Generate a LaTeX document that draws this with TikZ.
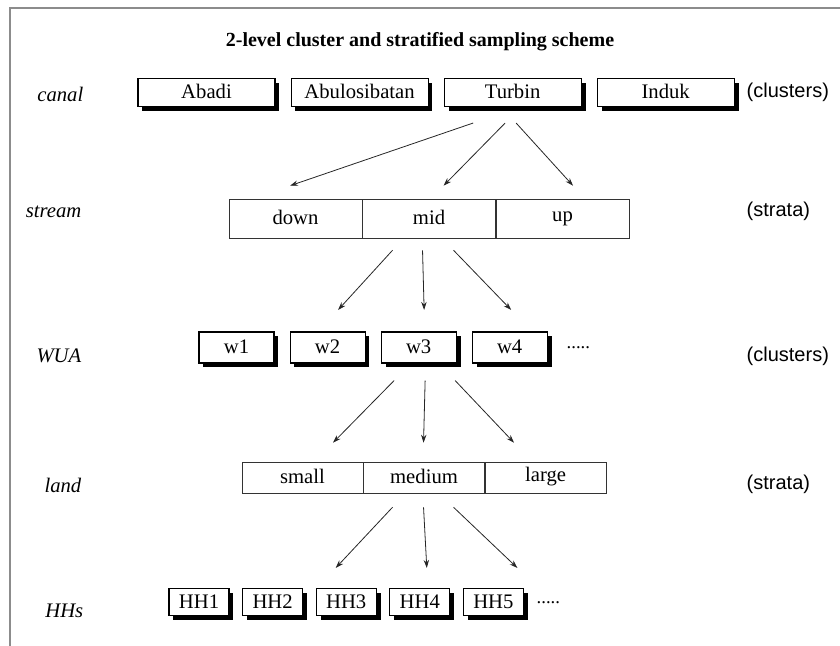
\documentclass[tikz,border=0pt]{standalone}
\usepackage{fontspec}
\setmainfont{Liberation Serif}
\setsansfont{Liberation Sans}
\usepackage{tikz}
\usetikzlibrary{positioning, shadows, calc, arrows.meta}

\begin{document}
\begin{tikzpicture}[x=0.75pt, y=-0.75pt, font=\fontsize{15.5}{17}\selectfont,
	cbox/.style={draw, fill=white, thick, inner sep=0pt, text height=10pt, text depth=1pt,
		minimum height=21pt, minimum width=102.75pt,
		drop shadow={shadow xshift=3.3pt, shadow yshift=-3.3pt, fill=black, opacity=1}},
	wbox/.style={cbox, minimum width=56.25pt, minimum height=23.25pt},
	hbox/.style={cbox, minimum width=45pt, minimum height=20.25pt},
	scell/.style={draw=black!80, inner sep=0pt, text height=10pt, text depth=1pt,
		minimum width=99.75pt, minimum height=29.25pt},
	lcell/.style={scell, minimum width=90.75pt, minimum height=23.25pt},
	rowname/.style={anchor=east, font=\fontsize{15.5}{17}\selectfont\itshape},
	kind/.style={anchor=west, font=\fontsize{15}{17}\sffamily},
	more/.style={anchor=base west, font=\fontsize{14}{16}\selectfont},
	arr/.style={-{Stealth[length=6pt, width=4pt]}, line width=0.6pt, draw=black!85}]
	\useasboundingbox (0,0) rectangle (840,646);
	\draw[black!45, line width=1.5pt] (10,646) -- (10,8) -- (840,8);
	
	\node[font=\fontsize{15}{17}\selectfont\bfseries] (title) at (420,42) {2-level cluster and stratified sampling scheme};
	
	\node[rowname] (canal) at (88,94) {canal};
	\node[rowname] (stream) at (86,212) {stream};
	\node[rowname] (wua) at (86,356) {WUA};
	\node[rowname] (land) at (86,485) {land};
	\node[rowname] (hhs) at (88,611) {HHs};
	
	\node[kind] (k1) at (742,92) {(clusters)};
	\node[kind] (k2) at (742,211) {(strata)};
	\node[kind] (k3) at (742,356) {(clusters)};
	\node[kind] (k4) at (742,484) {(strata)};
	
	\node[cbox] (abadi) at (206.5,92.5) {Abadi};
	\node[cbox, right=11.25pt of abadi] (abulo) {Abulosibatan};
	\node[cbox, right=11.25pt of abulo] (turbin) {Turbin};
	\node[cbox, right=11.25pt of turbin] (induk) {Induk};
	
	\node[scell] (down) at (295.5,218.5) {down};
	\node[scell, right=0pt of down] (mid) {mid};
	\node[scell, right=0pt of mid] (up) {\raisebox{2pt}{up}};
	
	\node[wbox] (w1) at (236.5,347.5) {w1};
	\node[wbox, right=11.25pt of w1] (w2) {w2};
	\node[wbox, right=11.25pt of w2] (w3) {w3};
	\node[wbox, right=11.25pt of w3] (w4) {w4};
	\node[more] (wmore) at (562,348) {.....};
	
	\node[lcell] (small) at (302.5,477.5) {small};
	\node[lcell, right=0pt of small] (medium) {medium};
	\node[lcell, right=0pt of medium] (large) {\raisebox{1.5pt}{large}};
	
	\node[hbox] (hh1) at (199,602) {HH1};
	\node[hbox, right=9.4pt of hh1] (hh2) {HH2};
	\node[hbox, right=9.4pt of hh2] (hh3) {HH3};
	\node[hbox, right=9.4pt of hh3] (hh4) {HH4};
	\node[hbox, right=9.4pt of hh4] (hh5) {HH5};
	\node[more] (hmore) at (532,603) {.....};
	
	\draw[arr] ($(turbin.south)+(-39.5,16)$) -- ($(down.north)+(-5.5,-13)$);
	\draw[arr] ($(turbin.south)+(-7.5,16)$) -- ($(mid.north)+(14.5,-13)$);
	\draw[arr] ($(turbin.south)+(3.5,16)$) -- ($(up.north)+(10.5,-13)$);
	
	\draw[arr] ($(mid.south)+(-36.5,12)$) -- ($(w2.north)+(10.5,-21.5)$);
	\draw[arr] ($(mid.south)+(-6.5,12)$) -- ($(w3.north)+(5.5,-21.5)$);
	\draw[arr] ($(mid.south)+(24.5,12)$) -- ($(w4.north)+(1.5,-21.5)$);
	
	\draw[arr] ($(w3.south)+(-24.5,17)$) -- ($(small.north)+(30.5,-19)$);
	\draw[arr] ($(w3.south)+(6.5,17)$) -- ($(medium.north)+(-0.5,-19)$);
	\draw[arr] ($(w3.south)+(36.5,17)$) -- ($(large.north)+(-31.5,-19)$);
	
	\draw[arr] ($(medium.south)+(-31.5,14)$) -- ($(hh3.north)+(-10.5,-20)$);
	\draw[arr] ($(medium.south)+(-0.5,14)$) -- ($(hh4.north)+(7,-20)$);
	\draw[arr] ($(medium.south)+(29.5,14)$) -- ($(hh5.north)+(24,-20)$);
\end{tikzpicture}
\end{document}
